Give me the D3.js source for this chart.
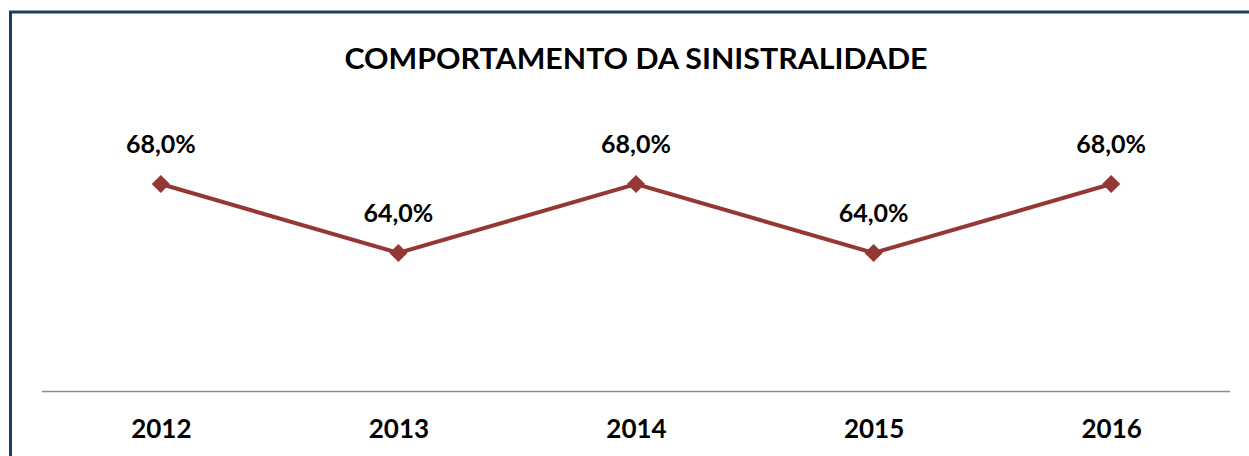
<!DOCTYPE html>
<html>
<head>
<meta charset="utf-8">
<script src="https://cdn.jsdelivr.net/npm/d3@7"></script>
<style>
  html, body { margin: 0; padding: 0; background: #fff; }
  svg { display: block; }
</style>
</head>
<body>
<div id="chart"></div>
<script>
// data
const years = ['2012', '2013', '2014', '2015', '2016'];
const sinistralidade = [68.0, 64.0, 68.0, 64.0, 68.0];
const titleText = 'COMPORTAMENTO DA SINISTRALIDADE';

const W = 1249, H = 456;
const font = 'Lato, "Open Sans", sans-serif';

const svg = d3.select('#chart').append('svg')
    .attr('width', W).attr('height', H);

// frame (top + left edges only visible)
svg.append('path')
    .attr('d', `M10.5,${H} V12 H${W}`)
    .attr('fill', 'none')
    .attr('stroke', '#1f3a60')
    .attr('stroke-width', 3);

// title
svg.append('text')
    .attr('x', 636).attr('y', 69)
    .attr('text-anchor', 'middle')
    .attr('font-family', font)
    .attr('font-weight', 700)
    .attr('font-size', '28px')
    .attr('fill', '#000')
    .attr('textLength', 583)
    .attr('lengthAdjust', 'spacingAndGlyphs')
    .text(titleText);

// scales
const plot = { left: 42, right: 1230, top: 115, bottom: 391 };
const x = d3.scalePoint().domain(years).range([plot.left, plot.right]).padding(0.5);
const y = d3.scaleLinear().domain([56, 72]).range([plot.bottom, plot.top]);

// x axis
const xAxis = svg.append('g')
    .attr('transform', `translate(0,${plot.bottom})`)
    .call(d3.axisBottom(x).tickSize(0).tickPadding(27));
xAxis.select('.domain')
    .attr('d', `M${plot.left},0.5H${plot.right}`)
    .attr('stroke', '#8c8c8c')
    .attr('stroke-width', 1.5);
xAxis.selectAll('text')
    .attr('font-family', font)
    .attr('font-weight', 700)
    .attr('font-size', '26px')
    .attr('fill', '#000')
    .attr('dy', '0.75em');

const data = years.map((yr, i) => ({ year: yr, value: sinistralidade[i] }));

// line
svg.append('path')
    .datum(data)
    .attr('d', d3.line().x(d => x(d.year)).y(d => y(d.value)))
    .attr('fill', 'none')
    .attr('stroke', '#953735')
    .attr('stroke-width', 4);

// markers
svg.selectAll('.marker')
    .data(data)
    .join('path')
    .attr('class', 'marker')
    .attr('transform', d => `translate(${x(d.year)},${y(d.value)})`)
    .attr('d', d3.symbol(d3.symbolDiamond2, 210))
    .attr('fill', '#953735');

// value labels
svg.selectAll('.label')
    .data(data)
    .join('text')
    .attr('class', 'label')
    .attr('x', d => x(d.year))
    .attr('y', d => y(d.value) - 31)
    .attr('text-anchor', 'middle')
    .attr('font-family', font)
    .attr('font-weight', 700)
    .attr('font-size', '25px')
    .attr('fill', '#000')
    .text(d => d.value.toFixed(1).replace('.', ',') + '%');
</script>
</body>
</html>
